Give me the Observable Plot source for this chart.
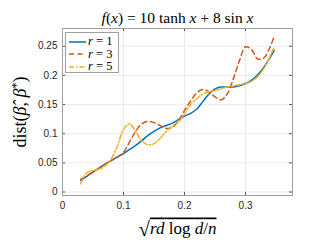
<!DOCTYPE html>
<html><head><meta charset="utf-8">
<script src="https://cdn.jsdelivr.net/npm/d3@7"></script>
<script src="https://cdn.jsdelivr.net/npm/@observablehq/plot@0.6"></script>
<style>
body{margin:0;background:#fff;}
#wrap{position:relative;width:332px;height:249px;}
#legend{position:absolute;left:65px;top:32px;width:54px;height:41px;border:1px solid #a0a0a0;background:#fff;box-sizing:border-box;font-family:"Liberation Serif","DejaVu Serif",serif;font-size:12.5px;color:#000;}
.row{position:absolute;left:0;height:12px;display:flex;align-items:center;white-space:nowrap;}
.row svg{display:block;}
</style></head><body><div id="wrap"></div>
<script>
const xs = [0.03,0.04,0.05,0.06,0.07,0.08,0.09,0.10,0.11,0.12,0.13,0.14,0.15,0.16,0.17,0.18,0.19,0.20,0.21,0.22,0.23,0.24,0.25,0.26,0.27,0.28,0.29,0.30,0.31,0.32,0.33,0.34,0.347];
const r1 = [0.020,0.027,0.034,0.041,0.048,0.054,0.060,0.066,0.073,0.080,0.088,0.097,0.104,0.110,0.114,0.118,0.124,0.130,0.135,0.142,0.155,0.168,0.177,0.180,0.180,0.180,0.182,0.186,0.192,0.201,0.214,0.230,0.243];
const r3 = [0.022,0.028,0.035,0.041,0.048,0.054,0.060,0.068,0.086,0.104,0.117,0.121,0.119,0.114,0.109,0.111,0.122,0.140,0.156,0.170,0.176,0.172,0.163,0.158,0.168,0.194,0.225,0.249,0.244,0.228,0.230,0.248,0.267];
const r5 = [0.014,0.033,0.037,0.039,0.045,0.057,0.079,0.107,0.117,0.104,0.088,0.081,0.083,0.092,0.104,0.113,0.120,0.134,0.150,0.160,0.168,0.172,0.174,0.177,0.180,0.182,0.184,0.186,0.190,0.198,0.212,0.232,0.249];
const seriesNames = ["r = 1","r = 3","r = 5"];
const colors = ["#0072BD","#D95319","#EDB120"];
const dashes = [null,"5,3.5","5,2,1.5,2"];
const xTicks = [0,0.1,0.2,0.3];
const yTicks = [0,0.05,0.1,0.15,0.2,0.25];
const titleText = "f(x) = 10 tanh x + 8 sin x";
const xLabel = "√rd log d/n";
const yLabel = "dist(β̂, β*)";

const W = 332, H = 249, mL = 62, mR = 40, mT = 28, mB = 54;
const fw = W - mL - mR, fh = H - mT - mB;

const lineMarks = [r1,r3,r5].map((arr,i) =>
  Plot.line(arr.map((v,j)=>({x:xs[j], y:v})), {
    x:"x", y:"y", stroke: colors[i], strokeWidth:1.5,
    strokeDasharray: dashes[i] || undefined, curve:"catmull-rom"
  }));

const plot = Plot.plot({
  width: W, height: H,
  marginLeft: mL, marginRight: mR, marginTop: mT, marginBottom: mB,
  x: {domain: [0, 0.377]},
  y: {domain: [-0.006, 0.2804]},
  style: {fontFamily: "'Liberation Sans', Arial, sans-serif", fontSize: "10px", color: "#262626", background: "#fff"},
  marks: [
    Plot.gridX(xTicks, {stroke: "#ebebeb", strokeOpacity: 1}),
    Plot.gridY(yTicks, {stroke: "#ebebeb", strokeOpacity: 1}),
    Plot.ruleX(xTicks, {stroke: "#555", insetTop: fh - 3}),
    Plot.ruleX(xTicks, {stroke: "#555", insetBottom: fh - 3}),
    Plot.ruleY(yTicks, {stroke: "#555", insetRight: fw - 3}),
    Plot.ruleY(yTicks, {stroke: "#555", insetLeft: fw - 3}),
    Plot.axisX({ticks: xTicks, tickFormat: d => String(d), tickSize: 0, tickPadding: 6,
      label: xLabel, labelAnchor: "center", labelOffset: 38, fontSize: 10}),
    Plot.axisY({ticks: yTicks, tickFormat: d => String(d), tickSize: 0, tickPadding: 5,
      label: yLabel, labelAnchor: "center", labelOffset: 49, fontSize: 10}),
    ...lineMarks,
    Plot.frame({stroke: "#a0a0a0"}),
    Plot.text([titleText], {frameAnchor: "top", lineAnchor: "bottom", dy: -6, fontSize: 15.5, fill: "#000"})
  ]
});

const wrap = document.getElementById("wrap");
wrap.appendChild(plot);

const svg = d3.select(plot);
const serif = "'Liberation Serif', 'DejaVu Serif', serif";
function rich(sel, parts) {
  sel.text(null).attr("font-family", serif);
  parts.forEach(p => {
    const t = sel.append("tspan").text(p.t);
    if (p.i) t.attr("font-style", "italic");
    if (p.dy) t.attr("dy", p.dy);
    if (p.fs) t.attr("font-size", p.fs);
  });
}
// title
const tt = svg.selectAll("text").filter(function(){ return this.textContent === titleText; });
rich(tt, [{t:"f",i:1},{t:"("},{t:"x",i:1},{t:") = 10 tanh "},{t:"x",i:1},{t:" + 8 sin "},{t:"x",i:1}]);
// y label
const yl = svg.selectAll("text").filter(function(){ return this.textContent.indexOf("dist") >= 0; });
yl.attr("font-size", 18).attr("fill", "#000");
rich(yl, [{t:"dist("},{t:"β̂",i:1},{t:", "},{t:"β",i:1},{t:"*",dy:-6,fs:12},{t:")",dy:6}]);
// x label
const xl = svg.selectAll("text").filter(function(){ return this.textContent.indexOf("log") >= 0; });
xl.attr("font-size", 17).attr("fill", "#000");
xl.text(null).attr("font-family", serif);
xl.append("tspan").text("√").attr("font-size", 21).attr("dy", 2);
const ov = xl.append("tspan").style("text-decoration", "overline").attr("dy", -2);
[{t:"rd",i:1},{t:" log "},{t:"d",i:1},{t:"/"},{t:"n",i:1}].forEach(p => {
  const t = ov.append("tspan").text(p.t); if (p.i) t.attr("font-style","italic");
});

// legend
const lg = document.createElement("div");
lg.id = "legend";
seriesNames.forEach((name, i) => {
  const row = document.createElement("div");
  row.className = "row";
  row.style.top = (2.7 + i * 12.6) + "px";
  const s = d3.create("svg").attr("width", 22).attr("height", 12);
  s.append("line").attr("x1", 3).attr("x2", 20).attr("y1", 6).attr("y2", 6)
    .attr("stroke", colors[i]).attr("stroke-width", 1.5)
    .attr("stroke-dasharray", dashes[i]);
  row.appendChild(s.node());
  const lab = document.createElement("span");
  const parts = name.split(" ");
  lab.innerHTML = "<i>" + parts[0] + "</i> " + parts.slice(1).join(" ");
  row.appendChild(lab);
  lg.appendChild(row);
});
wrap.appendChild(lg);
</script>
</body></html>
